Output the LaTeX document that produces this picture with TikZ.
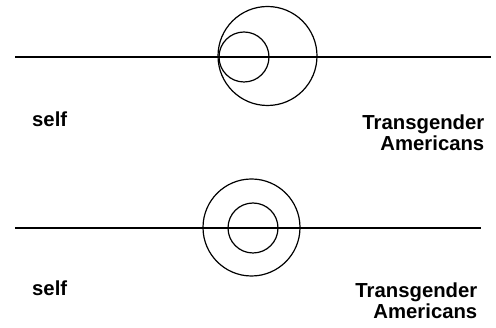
\documentclass[tikz,border=0pt]{standalone}
\usepackage{fontspec}
\setmainfont{Liberation Sans}
\usetikzlibrary{positioning}

\begin{document}
\begin{tikzpicture}[x=1pt, y=-1pt,
            ring/.style={draw, circle, line width=1.2pt, inner sep=0pt},
            axis line/.style={line width=1.3pt},
            side label/.style={font=\bfseries\fontsize{20.3}{20.5}\selectfont, inner sep=0pt}]

            \useasboundingbox (0,0) rectangle (496,328);

            % upper picture: self partly inside
            \coordinate (top-left) at (15,57);
            \coordinate (top-right) at (491,57);
            \draw[axis line] (top-left) -- (top-right);
            \node[ring, minimum size=99pt] (top-outer) at (267.5,56) {};
            \node[ring, minimum size=50pt] (top-inner) at (244,57) {};
            \node[side label, anchor=base west] (top-self) at (32,127) {self};
            \node[side label, align=right, anchor=north east] (top-group) at (484.5,115) {Transgender\\Americans};

            % lower picture: self fully inside
            \coordinate (low-left) at (15,228);
            \coordinate (low-right) at (481,228);
            \draw[axis line] (low-left) -- (low-right);
            \node[ring, minimum size=97pt] (low-outer) at (251.5,227.5) {};
            \node[ring, minimum size=50pt] (low-inner) at (253,228) {};
            \node[side label, anchor=base west] (low-self) at (32,296) {self};
            \node[side label, align=right, anchor=north east] (low-group) at (477.5,283) {Transgender\\Americans};
\end{tikzpicture}
\end{document}
